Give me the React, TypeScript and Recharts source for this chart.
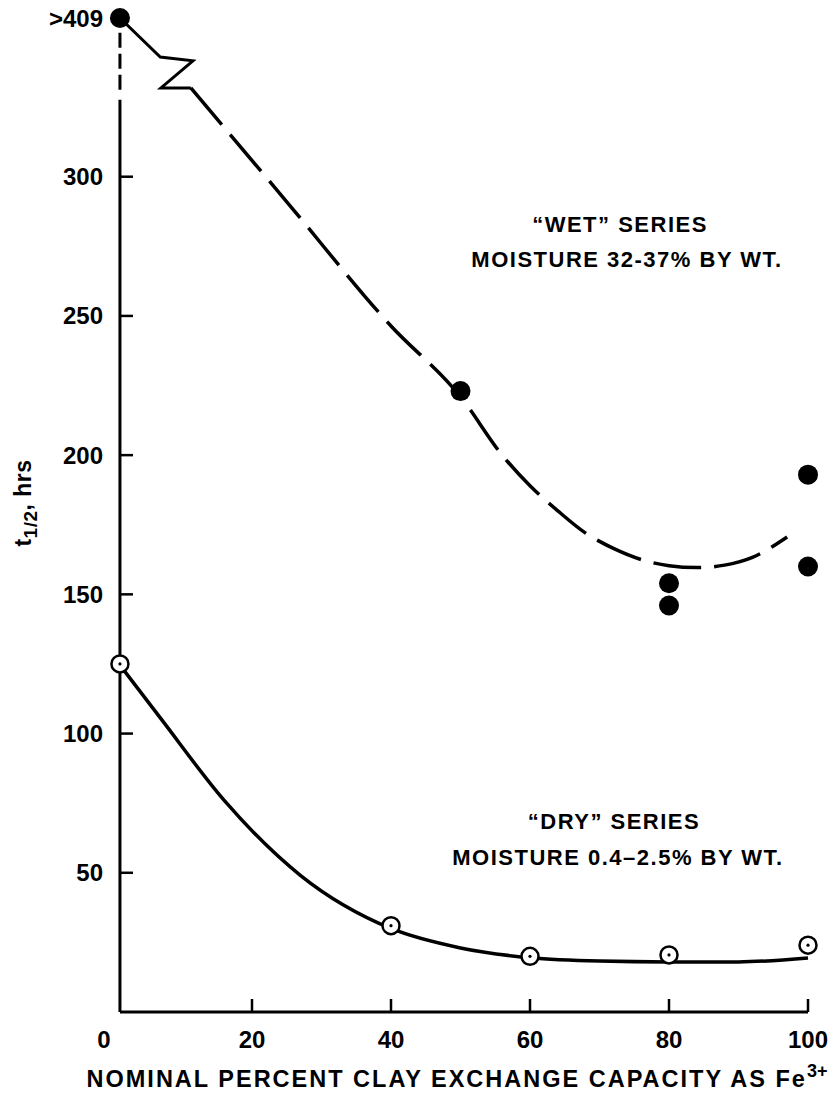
import React from "react"
import { ComposedChart, Line, Scatter, XAxis, YAxis, ReferenceLine } from "recharts"

// measured points
const wetX = [1, 50, 80, 80, 100, 100]
const wetT = [409, 223, 154, 146, 193, 160]
const dryX = [1, 40, 60, 80, 100]
const dryT = [125, 31, 20, 20.5, 24]

// hand-drawn fitted curves
const wetBreakX = [1, 6.8, 11.5, 6.9, 11.2]
const wetBreakT = [357, 343, 341.6, 331.9, 331.9]
const wetFitX = [11.2, 25, 40, 50, 56, 60, 64, 68, 72, 76, 80, 84, 88, 92, 97]
const wetFitT = [331.9, 291, 246.4, 221, 200, 189, 180, 172, 166.5, 162.5, 160.3, 159.6, 160.5, 163.3, 170.6]
const dryFitX = [1, 7, 16, 27, 40, 50, 60, 70, 80, 90, 100]
const dryFitT = [124.6, 105, 76, 49, 30, 23, 19.5, 18.3, 18, 18, 19.4]

const xTicks = [0, 20, 40, 60, 80, 100]
const yTicks = [50, 100, 150, 200, 250, 300, 357]
const yTickLabels = ["50", "100", "150", "200", "250", "300", ">409"]

// axis is broken above ~330; anything higher sits at the top
const BREAK_AT = 357
const AXIS_X = 1

const zip = (xs: number[], ys: number[]) => xs.map((x, i) => ({ x, y: Math.min(ys[i], BREAK_AT) }))

const wetPts = zip(wetX, wetT)
const dryPts = zip(dryX, dryT)
const wetBreak = zip(wetBreakX, wetBreakT)
const wetFit = zip(wetFitX, wetFitT)
const dryFit = zip(dryFitX, dryFitT)

const FONT = "'Liberation Sans', Arial, Helvetica, sans-serif"

const XTick = (props: any) => {
  const { x, y, payload } = props
  const v = payload.value
  return (
    <g>
      {v !== 0 && <line x1={x} x2={x} y1={y} y2={y - 13} stroke="#000" strokeWidth={2.5} />}
      <text
        x={v === 0 ? x - 9 : x}
        y={y + 27}
        textAnchor="middle"
        dominantBaseline="central"
        fontFamily={FONT}
        fontWeight={700}
        fontSize={24}
        fill="#000"
      >
        {v}
      </text>
    </g>
  )
}

const YTick = (props: any) => {
  const { x, y, payload } = props
  const i = yTicks.indexOf(payload.value)
  const top = payload.value === BREAK_AT
  return (
    <g>
      {!top && <line x1={x + 7} x2={x + 20} y1={y} y2={y} stroke="#000" strokeWidth={2.5} />}
      <text
        x={x - 10}
        y={y}
        textAnchor="end"
        dominantBaseline="central"
        fontFamily={FONT}
        fontWeight={700}
        fontSize={24}
        fill="#000"
      >
        {yTickLabels[i]}
      </text>
    </g>
  )
}

const FilledDot = (props: any) => <circle cx={props.cx} cy={props.cy} r={10} fill="#000" />
const OpenDot = (props: any) => (
  <g>
    <circle cx={props.cx} cy={props.cy} r={8.5} fill="#fff" stroke="#000" strokeWidth={2.5} />
    <circle cx={props.cx} cy={props.cy} r={1.6} fill="#000" />
  </g>
)

const note: React.CSSProperties = {
  position: "absolute",
  transform: "translate(-50%, -50%)",
  whiteSpace: "nowrap",
  fontFamily: FONT,
  fontWeight: 700,
  fontSize: 22,
  letterSpacing: 1.5,
  color: "#000",
}

export default function App() {
  return (
    <div style={{ position: "absolute", left: 0, top: 0, width: 828, height: 1094, background: "#fff" }}>
      <ComposedChart width={828} height={1094} margin={{ top: 18, right: 20, bottom: 42, left: 73 }}>
        <XAxis
          type="number"
          dataKey="x"
          domain={[0, 100]}
          ticks={xTicks}
          interval={0}
          height={40}
          axisLine={false}
          tickLine={false}
          tickSize={0}
          tickMargin={0}
          tick={XTick}
        />
        <YAxis
          type="number"
          dataKey="y"
          domain={[0, BREAK_AT]}
          ticks={yTicks}
          interval={0}
          width={40}
          axisLine={false}
          tickLine={false}
          tickSize={0}
          tickMargin={0}
          tick={YTick}
        />
        <ReferenceLine segment={[{ x: AXIS_X, y: 0 }, { x: 100, y: 0 }]} stroke="#000" strokeWidth={3} />
        <ReferenceLine segment={[{ x: AXIS_X, y: 0 }, { x: AXIS_X, y: 327.6 }]} stroke="#000" strokeWidth={3} />
        <ReferenceLine
          segment={[{ x: AXIS_X, y: 331.2 }, { x: AXIS_X, y: 354 }]}
          stroke="#000"
          strokeWidth={3}
          strokeDasharray="15 6"
        />
        <Line data={wetBreak} dataKey="y" type="linear" stroke="#000" strokeWidth={3} dot={false} isAnimationActive={false} />
        <Line
          data={wetFit}
          dataKey="y"
          type="monotone"
          stroke="#000"
          strokeWidth={3.5}
          strokeDasharray="48 13"
          dot={false}
          isAnimationActive={false}
        />
        <Line data={dryFit} dataKey="y" type="monotone" stroke="#000" strokeWidth={3.5} dot={false} isAnimationActive={false} />
        <Scatter data={wetPts} dataKey="y" shape={FilledDot} isAnimationActive={false} />
        <Scatter data={dryPts} dataKey="y" shape={OpenDot} isAnimationActive={false} />
      </ComposedChart>

      <div style={{ ...note, left: 620, top: 225 }}>“WET” SERIES</div>
      <div style={{ ...note, left: 627, top: 260 }}>MOISTURE 32-37% BY WT.</div>
      <div style={{ ...note, left: 614, top: 822 }}>“DRY” SERIES</div>
      <div style={{ ...note, left: 618, top: 858 }}>MOISTURE 0.4–2.5% BY WT.</div>

      <div style={{ ...note, left: 457, top: 1079, fontSize: 23.5, letterSpacing: 2 }}>
        NOMINAL PERCENT CLAY EXCHANGE CAPACITY AS Fe
        <span style={{ fontSize: 18, position: "relative", top: -10, letterSpacing: 0 }}>3+</span>
      </div>
      <div
        style={{
          ...note,
          left: 23,
          top: 503,
          fontSize: 23,
          letterSpacing: 0.5,
          transform: "translate(-50%, -50%) rotate(-90deg)",
        }}
      >
        t<span style={{ fontSize: 19, position: "relative", top: 6 }}>1/2</span>, hrs
      </div>
    </div>
  )
}
